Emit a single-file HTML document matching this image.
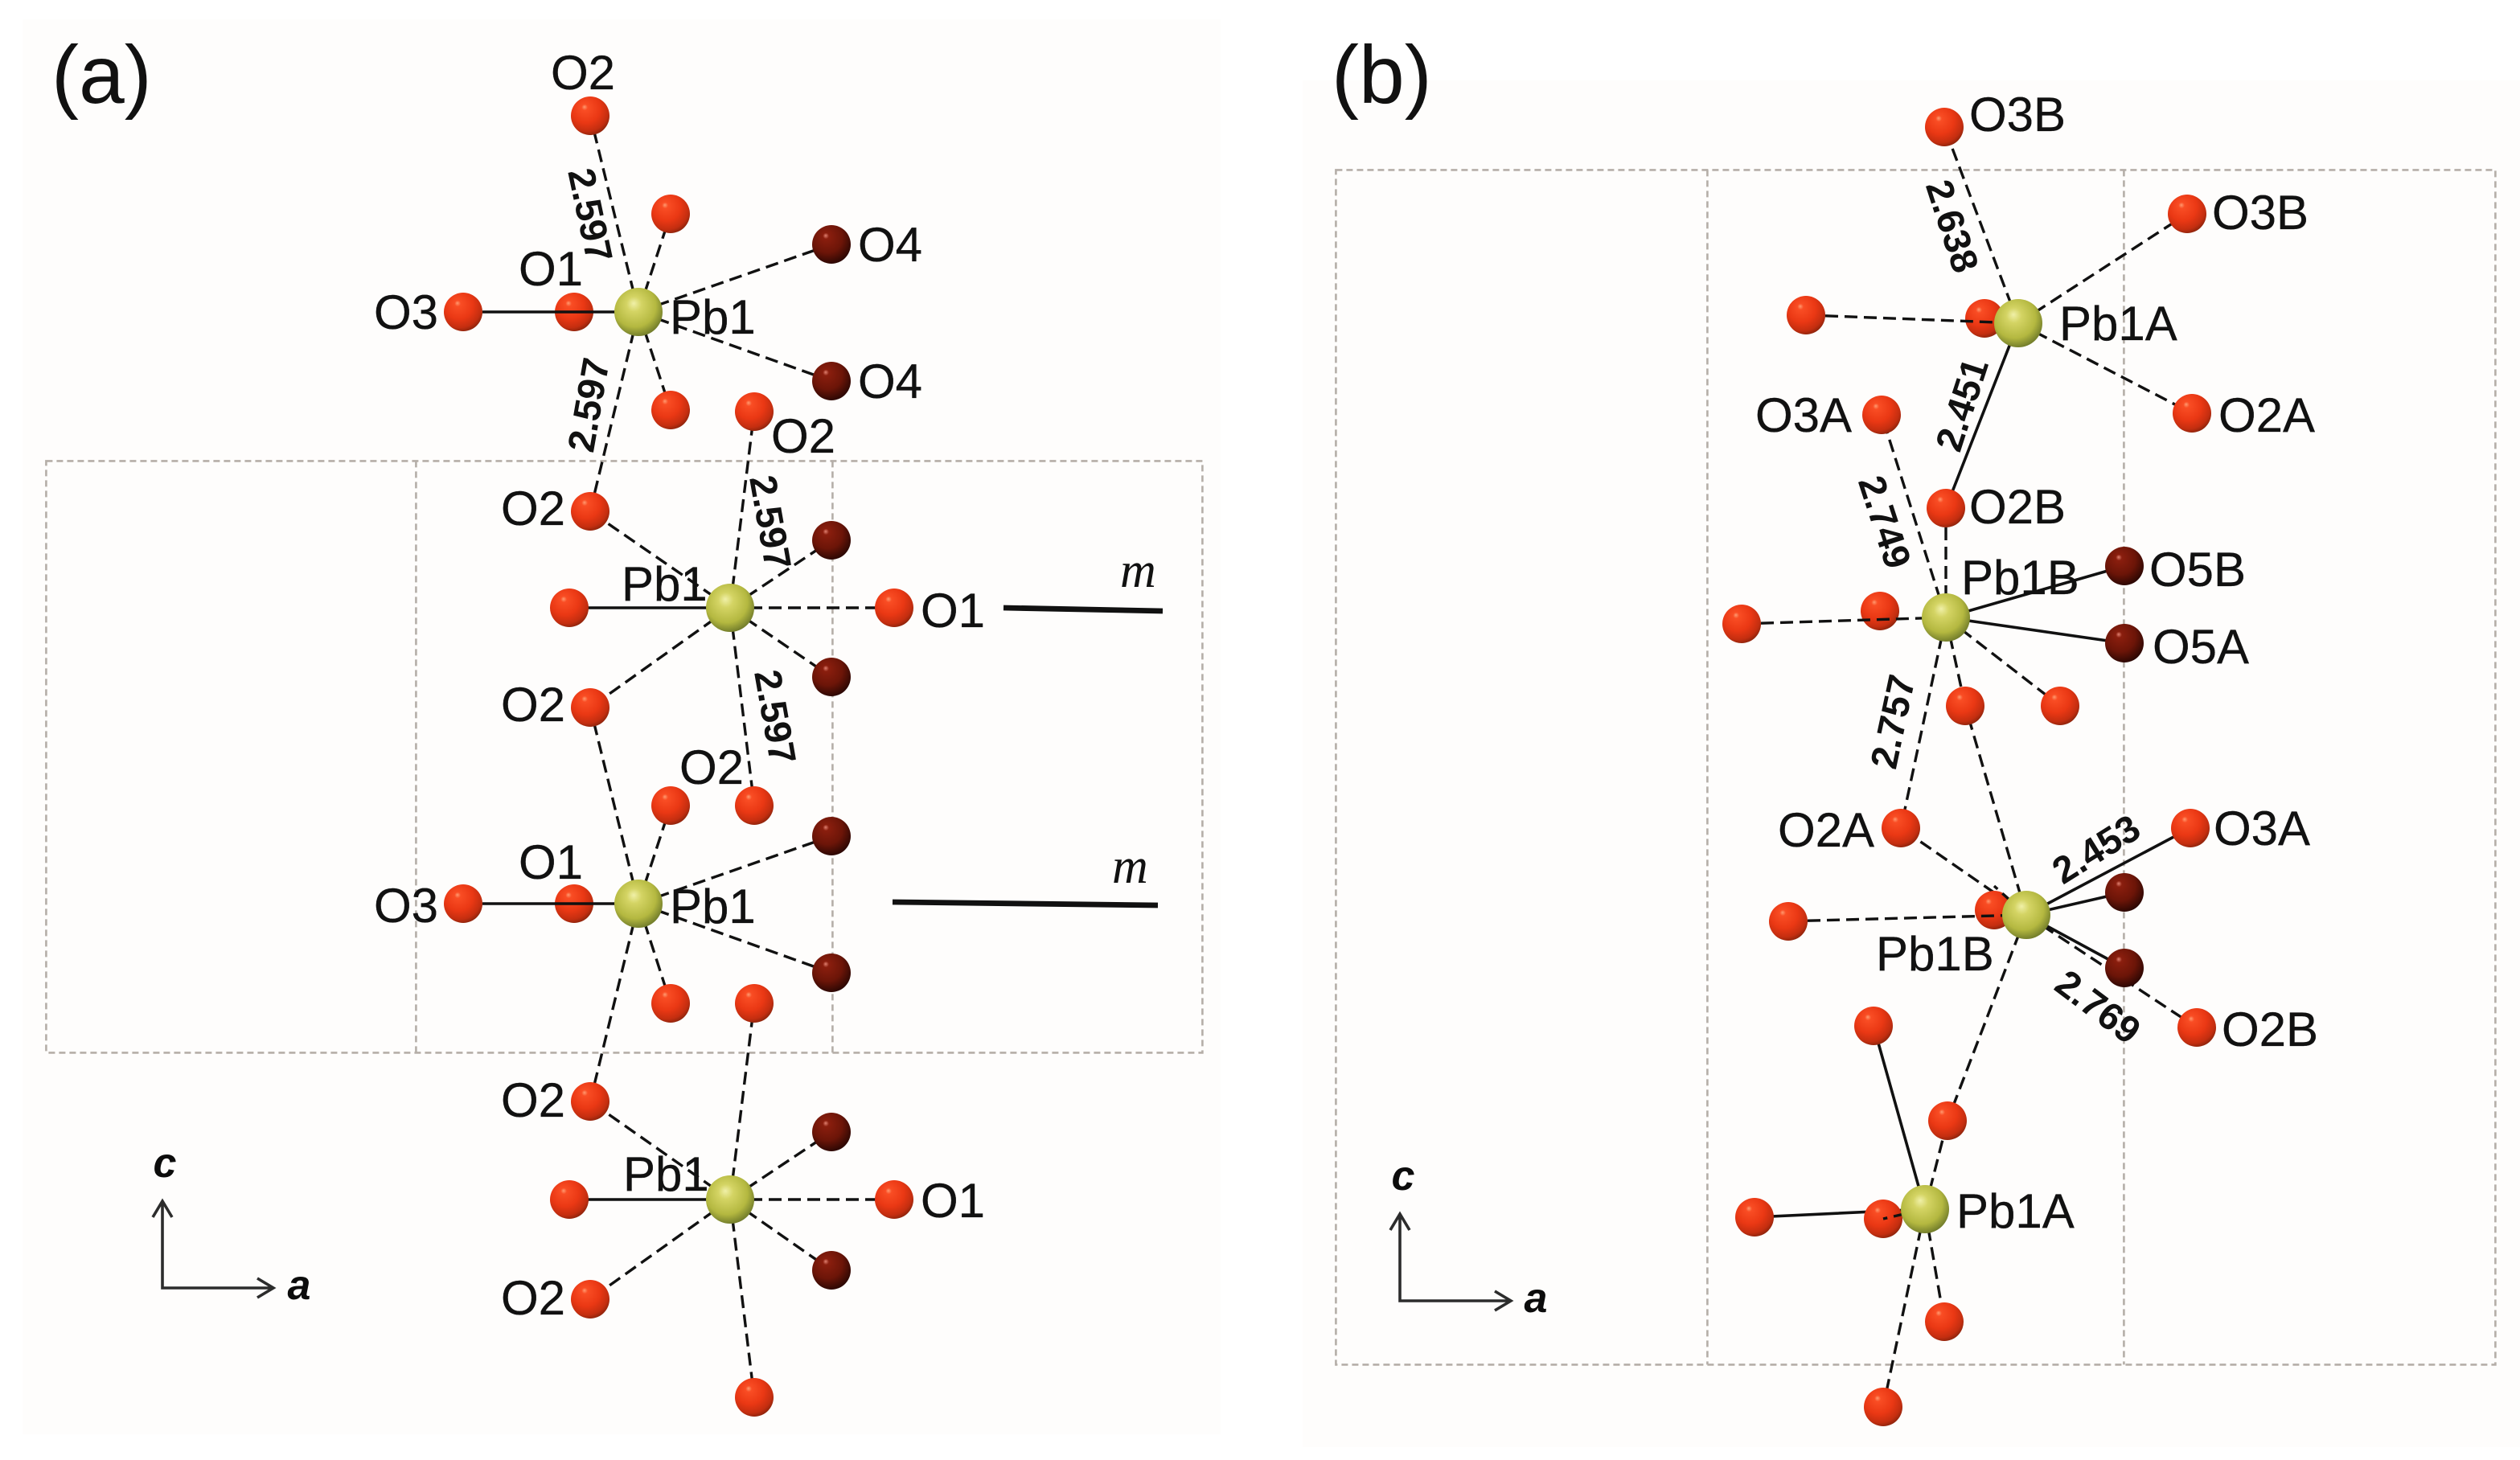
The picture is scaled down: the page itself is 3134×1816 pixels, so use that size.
<!DOCTYPE html>
<html><head><meta charset="utf-8">
<style>
html,body{margin:0;padding:0;background:#fff}
svg{display:block}
text{font-family:"Liberation Sans",sans-serif;fill:#111}
.l{font-size:30px;stroke:#111;stroke-width:.15px}
.n{font-size:23.5px;font-weight:bold;text-anchor:middle;fill:#0c0c0c}
.h{font-size:51px}
.ax{font-size:26px;font-weight:bold;font-style:italic;text-anchor:middle;fill:#0c0c0c}
.m{font-family:"Liberation Serif",serif;font-style:italic;font-size:31px}
.f{fill:none;stroke:#b5aea8;stroke-width:1.3;stroke-dasharray:4 2.5}
.d{stroke:#111;stroke-width:1.7;stroke-dasharray:8 4;fill:none}
.s{stroke:#111;stroke-width:1.8;fill:none}
.o{fill:url(#ro)}.k{fill:url(#rk)}.p{fill:url(#rp)}
.a{stroke:#2c2c2c;stroke-width:1.8;fill:none}
</style></head><body>
<svg xmlns="http://www.w3.org/2000/svg" width="3134" height="1816" viewBox="0 0 1567 908">
<defs>
<radialGradient id="ro" cx=".42" cy=".36" r=".66" fx=".35" fy=".27"><stop offset="0" stop-color="#ff9a70"/><stop offset=".12" stop-color="#f94d24"/><stop offset=".55" stop-color="#ea3814"/><stop offset=".85" stop-color="#c42e10"/><stop offset="1" stop-color="#8e240c"/></radialGradient>
<radialGradient id="rk" cx=".42" cy=".36" r=".66" fx=".35" fy=".27"><stop offset="0" stop-color="#e08070"/><stop offset=".12" stop-color="#8a1e0e"/><stop offset=".6" stop-color="#6c1508"/><stop offset="1" stop-color="#2a0703"/></radialGradient>
<radialGradient id="rp" cx=".44" cy=".4" r=".62" fx=".4" fy=".32"><stop offset="0" stop-color="#f0f0a8"/><stop offset=".25" stop-color="#d4d464"/><stop offset=".7" stop-color="#b4b840"/><stop offset="1" stop-color="#6f7a2a"/></radialGradient>
</defs>
<rect width="1567" height="908" fill="#fff"/>
<rect x="14" y="12" width="745" height="880" fill="#fefdfc"/>
<rect x="810" y="50" width="757" height="850" fill="#fefdfc"/>

<rect class="f" x="28.7" y="286.7" width="719" height="368"/>
<path class="f" d="M258.7 286.7V654.7M517.7 286.7V654.7"/>
<rect class="f" x="830.7" y="105.7" width="721" height="743"/>
<path class="f" d="M1061.7 105.7V848.7M1320.7 105.7V848.7"/>

<g class="d">
<path d="M397 194L367 72M397 194L417 133M397 194L517 152M397 194L517 237M397 194L417 255M397 194L367 318"/>
<path d="M454 378L469 256M454 378L367 318M454 378L517 336M454 378L556 378M454 378L517 421M454 378L367 440M454 378L469 501"/>
<path d="M397 562L367 440M397 562L417 501M397 562L517 520M397 562L517 605M397 562L417 624M397 562L367 685"/>
<path d="M454 746L469 624M454 746L367 685M454 746L517 704M454 746L556 746M454 746L517 790M454 746L367 808M454 746L469 869"/>
<path d="M1255 201L1209 79M1255 201L1360 133M1255 201L1363 257"/>
<path d="M1210 384L1170 258M1210 384L1210 316M1210 384L1222 439M1210 384L1281 439M1210 384L1182 515"/>
<path d="M1260 569L1182 515M1260 569L1222 439M1260 569L1366 639M1260 569L1211 697"/>
<path d="M1197 752L1211 697M1197 752L1209 822M1197 752L1171 875"/>
</g>
<g class="s">
<path d="M454 378L354 378M454 746L354 746"/>
<path d="M1255 201L1210 316M1210 384L1321 352M1210 384L1321 400M1260 569L1362 515M1260 569L1321 555M1260 569L1321 602M1197 752L1165 638M1197 752L1091 757"/>
</g>

<g class="o">
<circle cx="367" cy="72" r="12"/><circle cx="417" cy="133" r="12"/><circle cx="288" cy="194" r="12"/><circle cx="357" cy="194" r="12"/><circle cx="417" cy="255" r="12"/><circle cx="469" cy="256" r="12"/><circle cx="367" cy="318" r="12"/>
<circle cx="354" cy="378" r="12"/><circle cx="556" cy="378" r="12"/><circle cx="367" cy="440" r="12"/><circle cx="469" cy="501" r="12"/><circle cx="417" cy="501" r="12"/>
<circle cx="288" cy="562" r="12"/><circle cx="357" cy="562" r="12"/><circle cx="417" cy="624" r="12"/><circle cx="469" cy="624" r="12"/><circle cx="367" cy="685" r="12"/>
<circle cx="354" cy="746" r="12"/><circle cx="556" cy="746" r="12"/><circle cx="367" cy="808" r="12"/><circle cx="469" cy="869" r="12"/>
<circle cx="1209" cy="79" r="12"/><circle cx="1360" cy="133" r="12"/><circle cx="1123" cy="196" r="12"/><circle cx="1234" cy="198" r="12"/><circle cx="1363" cy="257" r="12"/><circle cx="1170" cy="258" r="12"/><circle cx="1210" cy="316" r="12"/>
<circle cx="1083" cy="388" r="12"/><circle cx="1169" cy="380" r="12"/><circle cx="1222" cy="439" r="12"/><circle cx="1281" cy="439" r="12"/><circle cx="1182" cy="515" r="12"/><circle cx="1362" cy="515" r="12"/>
<circle cx="1112" cy="573" r="12"/><circle cx="1240" cy="566" r="12"/><circle cx="1366" cy="639" r="12"/><circle cx="1165" cy="638" r="12"/><circle cx="1211" cy="697" r="12"/>
<circle cx="1091" cy="757" r="12"/><circle cx="1171" cy="758" r="12"/><circle cx="1209" cy="822" r="12"/><circle cx="1171" cy="875" r="12"/>
</g>
<g class="k">
<circle cx="517" cy="152" r="12"/><circle cx="517" cy="237" r="12"/><circle cx="517" cy="336" r="12"/><circle cx="517" cy="421" r="12"/><circle cx="517" cy="520" r="12"/><circle cx="517" cy="605" r="12"/><circle cx="517" cy="704" r="12"/><circle cx="517" cy="790" r="12"/>
<circle cx="1321" cy="352" r="12"/><circle cx="1321" cy="400" r="12"/><circle cx="1321" cy="555" r="12"/><circle cx="1321" cy="602" r="12"/>
</g>

<path class="s" d="M300 194L397 194M300 562L397 562"/>
<g class="d">
<path d="M1135 196.4L1255 201M1095 387.6L1210 384M1124 572.6L1260 569M1260 569L1240 551"/>
<path d="M1197 752L1171 758"/>
</g>

<g class="p">
<circle cx="397" cy="194" r="15"/><circle cx="454" cy="378" r="15"/><circle cx="397" cy="562" r="15"/><circle cx="454" cy="746" r="15"/>
<circle cx="1255" cy="201" r="15"/><circle cx="1210" cy="384" r="15"/><circle cx="1260" cy="569" r="15"/><circle cx="1197" cy="752" r="15"/>
</g>

<path d="M624 378L723 380M555 561L720 563" stroke="#111" stroke-width="3.4" fill="none"/>
<text class="m" x="696.5" y="365">m</text>
<text class="m" x="691.5" y="549">m</text>

<path class="a" d="M101 747V801H170M95 757L101 747L107 757M160 795L170 801L160 807"/>
<path class="a" d="M870.5 755V809H939.5M864.5 765L870.5 755L876.5 765M929.5 803L939.5 809L929.5 815"/>
<text class="ax" x="102.5" y="732">c</text><text class="ax" x="186" y="808">a</text>
<text class="ax" x="872.5" y="740">c</text><text class="ax" x="955" y="816">a</text>

<text class="h" x="32" y="64">(a)</text>
<text class="h" x="828" y="64">(b)</text>

<g class="l">
<text x="342.5" y="55.5">O2</text><text x="322.5" y="177.5">O1</text><text x="232.5" y="204.5">O3</text><text x="416.5" y="207.5">Pb1</text><text x="533.5" y="162.5">O4</text><text x="533.5" y="247.5">O4</text><text x="479.5" y="281.5">O2</text>
<text x="311.5" y="326.5">O2</text><text x="386.5" y="373.5">Pb1</text><text x="572.5" y="390">O1</text><text x="311.5" y="448.5">O2</text><text x="422.5" y="487.5">O2</text>
<text x="322.5" y="546.5">O1</text><text x="232.5" y="573.5">O3</text><text x="416.5" y="574">Pb1</text>
<text x="311.5" y="694.5">O2</text><text x="387.5" y="740.5">Pb1</text><text x="572.5" y="757">O1</text><text x="311.5" y="817.5">O2</text>
<text x="1224.5" y="81.5">O3B</text><text x="1375.5" y="142.5">O3B</text><text x="1280.5" y="211.5">Pb1A</text><text x="1091.5" y="268.5">O3A</text><text x="1379.5" y="268.5">O2A</text><text x="1224.5" y="325.5">O2B</text>
<text x="1219.5" y="369.5">Pb1B</text><text x="1336.5" y="364.5">O5B</text><text x="1338.5" y="412.5">O5A</text><text x="1105.5" y="526.5">O2A</text><text x="1376.5" y="525.5">O3A</text><text x="1166.5" y="603.5">Pb1B</text><text x="1381.5" y="650.5">O2B</text><text x="1216.5" y="763.5">Pb1A</text>
</g>

<g class="n">
<text transform="translate(366 134) rotate(78) translate(0 7)">2.597</text>
<text transform="translate(367 252) rotate(-80) translate(0 7)">2.597</text>
<text transform="translate(478 325) rotate(80) translate(0 7)">2.597</text>
<text transform="translate(481 446) rotate(80) translate(0 7)">2.597</text>
<text transform="translate(1213 141) rotate(72) translate(0 7)">2.638</text>
<text transform="translate(1221 252) rotate(-72) translate(0 7)">2.451</text>
<text transform="translate(1171 325) rotate(72) translate(0 7)">2.749</text>
<text transform="translate(1178 449) rotate(-78) translate(0 7)">2.757</text>
<text transform="translate(1304 529) rotate(-32) translate(0 7)">2.453</text>
<text transform="translate(1304 627) rotate(37) translate(0 7)">2.769</text>
</g>
</svg>
</body></html>
